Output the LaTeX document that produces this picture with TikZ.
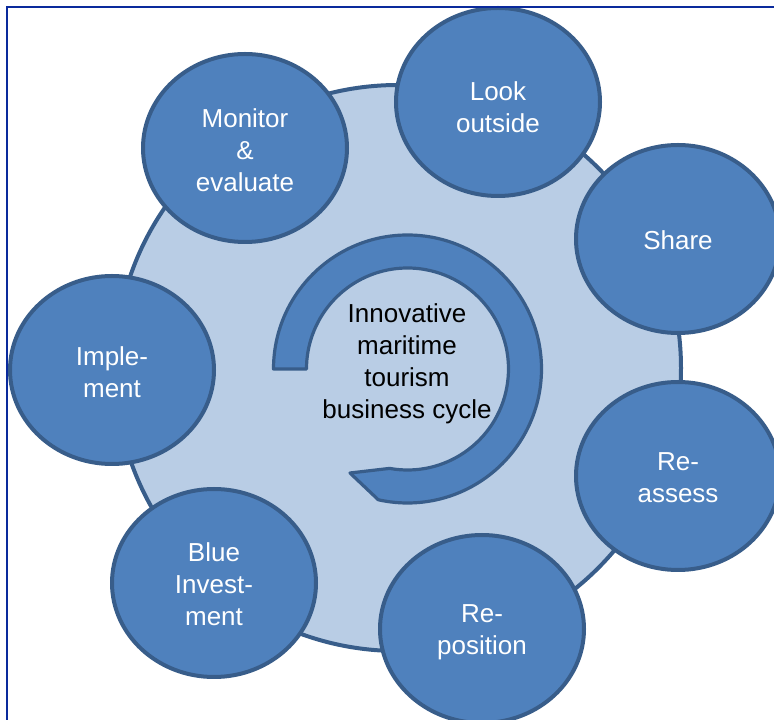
\documentclass[tikz,border=0pt]{standalone}
\usepackage{fontspec}
\setmainfont{Liberation Sans}
\usetikzlibrary{shapes.geometric}
\definecolor{stepfill}{HTML}{4F81BD}
\definecolor{stepline}{HTML}{385D8A}
\definecolor{bigfill}{HTML}{B9CDE5}
\definecolor{framecol}{HTML}{0A2A9C}
\tikzset{
  stepbox/.style={ellipse, draw=stepline, fill=stepfill, line width=4pt,
    minimum width=204pt, minimum height=188pt, inner sep=0pt},
  steptext/.style={align=center, text=white, inner sep=0pt, font=\fontsize{26}{32}\selectfont},
  bigcircle/.style={draw=stepline, fill=bigfill, line width=4pt},
  ringshape/.style={draw=stepline, fill=stepfill, line width=3.2pt, line join=round},
  centertext/.style={align=center, text=black, font=\fontsize{26}{32}\selectfont}
}
\begin{document}
\begin{tikzpicture}[x=1pt,y=1pt]
\useasboundingbox (0,0) rectangle (774,720);
% big background circle
\path[bigcircle] (398,352) circle[radius=283];
% inner ring
\draw[ringshape] (273.5,351) arc[start angle=180, end angle=-102.6, radius=134]
  -- (350,247) -- (389.6,251.6)
  arc[start angle=-100.2, end angle=180, radius=101] -- cycle;
\node[centertext] (center) at (407,356) {Innovative\\maritime\\tourism\\business cycle};
% steps
\node[stepbox] (monitor) at (245,572) {};
\node[stepbox] (look) at (498,618) {};
\node[stepbox] (share) at (678,481) {};
\node[stepbox] (reassess) at (678,244) {};
\node[stepbox] (reposition) at (482,91) {};
\node[stepbox] (blue) at (214,137) {};
\node[stepbox] (implement) at (112,350) {};
\node[steptext] (monitort) at ([yshift=-2pt]monitor.center) {Monitor\\\&\\evaluate};
\node[steptext] (lookt) at ([yshift=-5pt]look.center) {Look\\outside};
\node[steptext] (sharet) at ([yshift=-1pt]share.center) {Share};
\node[steptext] (reassesst) at ([yshift=-2pt]reassess.center) {Re-\\assess};
\node[steptext] (repositiont) at ([yshift=-3pt]reposition.center) {Re-\\position};
\node[steptext] (bluet) at ([yshift=-1pt]blue.center) {Blue\\Invest-\\ment};
\node[steptext] (implementt) at ([yshift=-2pt]implement.center) {Imple-\\ment};
% frame
\coordinate (f1) at (6.5,-5);
\coordinate (f2) at (6.5,712.5);
\coordinate (f3) at (780,712.5);
\draw[framecol, line width=2pt] (f1) -- (f2) -- (f3);
\end{tikzpicture}
\end{document}
